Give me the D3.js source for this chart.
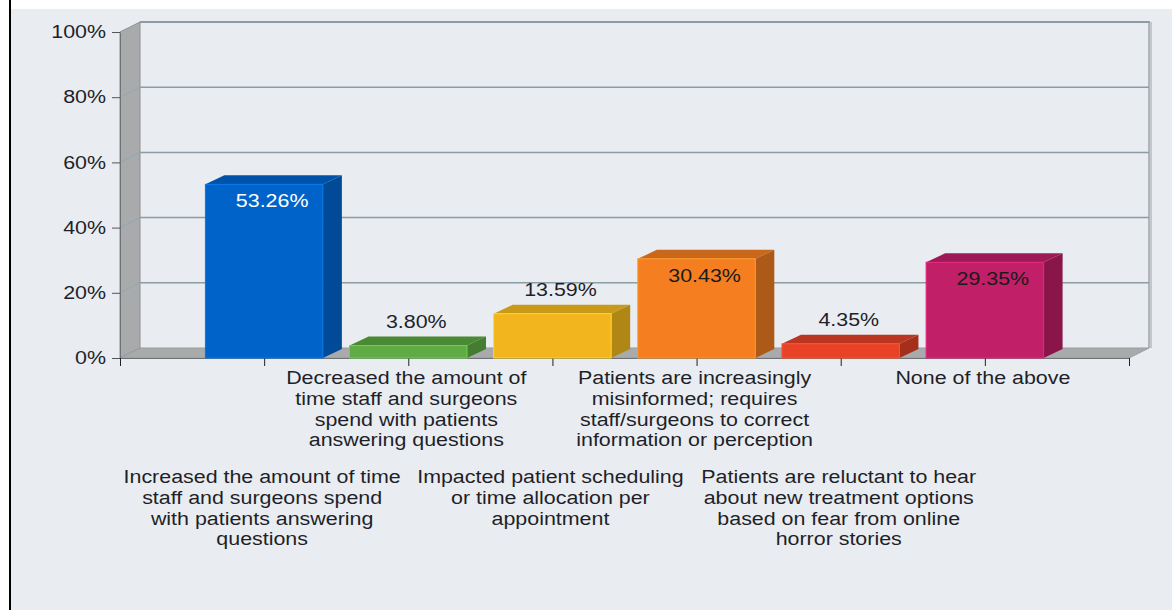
<!DOCTYPE html>
<html>
<head>
<meta charset="utf-8">
<script src="https://cdn.jsdelivr.net/npm/d3@7"></script>
<style>
  body { margin: 0; background: #ffffff; }
  svg { display: block; font-family: "Liberation Sans", Arial, sans-serif; }
</style>
</head>
<body>
<svg id="chart" width="1172" height="610"></svg>
<script>
// categories, one string per bar; line breaks as in the picture
var categories = [
    "Increased the amount of time\nstaff and surgeons spend\nwith patients answering\nquestions",
    "Decreased the amount of\ntime staff and surgeons\nspend with patients\nanswering questions",
    "Impacted patient scheduling\nor time allocation per\nappointment",
    "Patients are increasingly\nmisinformed; requires\nstaff/surgeons to correct\ninformation or perception",
    "Patients are reluctant to hear\nabout new treatment options\nbased on fear from online\nhorror stories",
    "None of the above"
];
var values = [53.26, 3.80, 13.59, 30.43, 4.35, 29.35];
var yTicks = [0, 20, 40, 60, 80, 100];
var frontColors = ['#0063c9', '#60ac44', '#f2b51e', '#f57f20', '#e84327', '#c11f68'];
var topColors = ['#0052a8', '#4b8a35', '#c99a18', '#c9681a', '#bb3620', '#9e1a56'];
var sideColors = ['#004a98', '#447d30', '#b08714', '#ad5917', '#a42f1b', '#8a1549'];

var sx = 1.19,            // text is drawn a bit wide
    font_size = 18,
    text_color = '#1f1f29',
    depth_x = 20, depth_y = 10,
    bar_dx = 19, bar_dy = 9;

var svg = d3.select('#chart');

// frame
svg.append('rect').attr('x', 11).attr('y', 9).attr('width', 1161).attr('height', 601)
    .attr('fill', '#e9edf1');
svg.append('rect').attr('x', 9).attr('y', 0).attr('width', 2).attr('height', 610)
    .attr('fill', '#000');

var y = d3.scaleLinear().domain([0, 100]).range([358, 32]);
var x = d3.scaleLinear().domain([0, categories.length + 1]).range([120, 1129]);
var band = x(1) - x(0),
    barW = band * 0.815;

var x0 = x(0), x1 = x(categories.length + 1);

// back wall edges
svg.append('line').attr('x1', x0 + depth_x).attr('x2', x1 + depth_x + 1)
    .attr('y1', y(100) - depth_y).attr('y2', y(100) - depth_y)
    .attr('stroke', '#8c9ca4').attr('stroke-width', 2);
svg.append('line').attr('x1', x1 + depth_x + 2).attr('x2', x1 + depth_x + 2)
    .attr('y1', y(100) - depth_y).attr('y2', y(0) - depth_y)
    .attr('stroke', '#c4c7ca').attr('stroke-width', 2);
svg.append('line').attr('x1', x1 + depth_x).attr('x2', x1 + depth_x)
    .attr('y1', y(100) - depth_y).attr('y2', y(0) - depth_y)
    .attr('stroke', '#9aa3a8').attr('stroke-width', 1.5);

// gridlines on back wall
svg.append('g').selectAll('line')
    .data(yTicks.slice(1, -1)).enter()
    .append('line')
    .attr('x1', x0 + depth_x).attr('x2', x1 + depth_x)
    .attr('y1', function(d) { return y(d) - depth_y; })
    .attr('y2', function(d) { return y(d) - depth_y; })
    .attr('stroke', '#8c9ca4').attr('stroke-width', 1.5);

// side wall
svg.append('path')
    .attr('d', 'M' + x0 + ',' + y(100) + 'L' + (x0 + depth_x) + ',' + (y(100) - depth_y) +
        'L' + (x0 + depth_x) + ',' + (y(0) - depth_y) + 'L' + x0 + ',' + y(0) + 'Z')
    .attr('fill', '#a9aaac').attr('stroke', '#8e9092').attr('stroke-width', 1);
svg.append('g').selectAll('line')
    .data(yTicks.slice(1, -1)).enter()
    .append('line')
    .attr('x1', x0).attr('x2', x0 + depth_x)
    .attr('y1', function(d) { return y(d); })
    .attr('y2', function(d) { return y(d) - depth_y; })
    .attr('stroke', '#93a9b2').attr('stroke-width', 1.2);

// floor
svg.append('path')
    .attr('d', 'M' + x0 + ',' + y(0) + 'L' + (x0 + depth_x) + ',' + (y(0) - depth_y) +
        'L' + (x1 + depth_x) + ',' + (y(0) - depth_y) + 'L' + x1 + ',' + y(0) + 'Z')
    .attr('fill', '#a9aaac').attr('stroke', '#9a9b9d').attr('stroke-width', 1);

// axes
var yAxis = svg.append('g')
    .attr('transform', 'translate(' + x0 + ',0)')
    .call(d3.axisLeft(y).tickValues(yTicks).tickSize(8).tickSizeOuter(0)
        .tickFormat(function(d) { return d + '%'; }));
yAxis.select('.domain').attr('stroke', '#6f7275');
yAxis.selectAll('.tick line').attr('stroke', '#555');
yAxis.selectAll('.tick text')
    .attr('font-size', font_size)
    .attr('font-family', '"Liberation Sans", Arial, sans-serif')
    .attr('fill', text_color)
    .attr('x', -14 / sx)
    .attr('transform', 'scale(' + sx + ',1)');

var xAxis = svg.append('g')
    .attr('transform', 'translate(0,' + y(0) + ')')
    .call(d3.axisBottom(x).tickValues(d3.range(0, categories.length + 2))
        .tickSize(8).tickSizeOuter(0).tickFormat(''));
xAxis.select('.domain').attr('stroke', '#6f7275');
xAxis.selectAll('.tick line').attr('stroke', '#222');

// bars
var bars = svg.append('g').selectAll('g')
    .data(values).enter()
    .append('g');

bars.append('path')
    .attr('d', function(d, i) {
        var l = x(i + 1) - barW / 2, r = l + barW, t = y(d);
        return 'M' + l + ',' + t + 'L' + (l + bar_dx) + ',' + (t - bar_dy) +
            'L' + (r + bar_dx) + ',' + (t - bar_dy) + 'L' + r + ',' + t + 'Z';
    })
    .attr('fill', function(d, i) { return topColors[i]; });

bars.append('path')
    .attr('d', function(d, i) {
        var r = x(i + 1) + barW / 2, t = y(d), b = y(0);
        return 'M' + r + ',' + t + 'L' + (r + bar_dx) + ',' + (t - bar_dy) +
            'L' + (r + bar_dx) + ',' + (b - bar_dy) + 'L' + r + ',' + b + 'Z';
    })
    .attr('fill', function(d, i) { return sideColors[i]; });

bars.append('rect')
    .attr('x', function(d, i) { return x(i + 1) - barW / 2; })
    .attr('y', function(d) { return y(d); })
    .attr('width', barW)
    .attr('height', function(d) { return y(0) - y(d); })
    .attr('fill', function(d, i) { return frontColors[i]; })
    .attr('stroke', function(d, i) { return d3.color(frontColors[i]).brighter(0.5); })
    .attr('stroke-width', 1);

// value labels
bars.append('text')
    .text(function(d) { return d.toFixed(2) + '%'; })
    .attr('text-anchor', 'middle')
    .attr('font-size', font_size)
    .attr('fill', function(d, i) {
        if (d > 20) return i === 0 ? '#ffffff' : '#1a1a1a';
        return text_color;
    })
    .attr('transform', function(d, i) {
        var cx = x(i + 1) + 8,
            ty = d > 20 ? y(d) + 23 : y(d) - bar_dy - 9;
        return 'translate(' + cx + ',' + ty + ') scale(' + sx + ',1)';
    });

// category labels, alternating rows
var labels = svg.append('g').selectAll('text')
    .data(categories).enter()
    .append('text')
    .attr('text-anchor', 'middle')
    .attr('font-size', font_size)
    .attr('fill', text_color)
    .attr('transform', function(d, i) {
        var ty = i % 2 === 0 ? 483 : 384;
        return 'translate(' + (x(i + 1) - 2) + ',' + ty + ') scale(' + sx + ',1)';
    });

labels.selectAll('tspan')
    .data(function(d) { return d.split('\n'); }).enter()
    .append('tspan')
    .attr('x', 0)
    .attr('dy', function(d, j) { return j === 0 ? 0 : 20.8; })
    .text(function(d) { return d; });
</script>
</body>
</html>
